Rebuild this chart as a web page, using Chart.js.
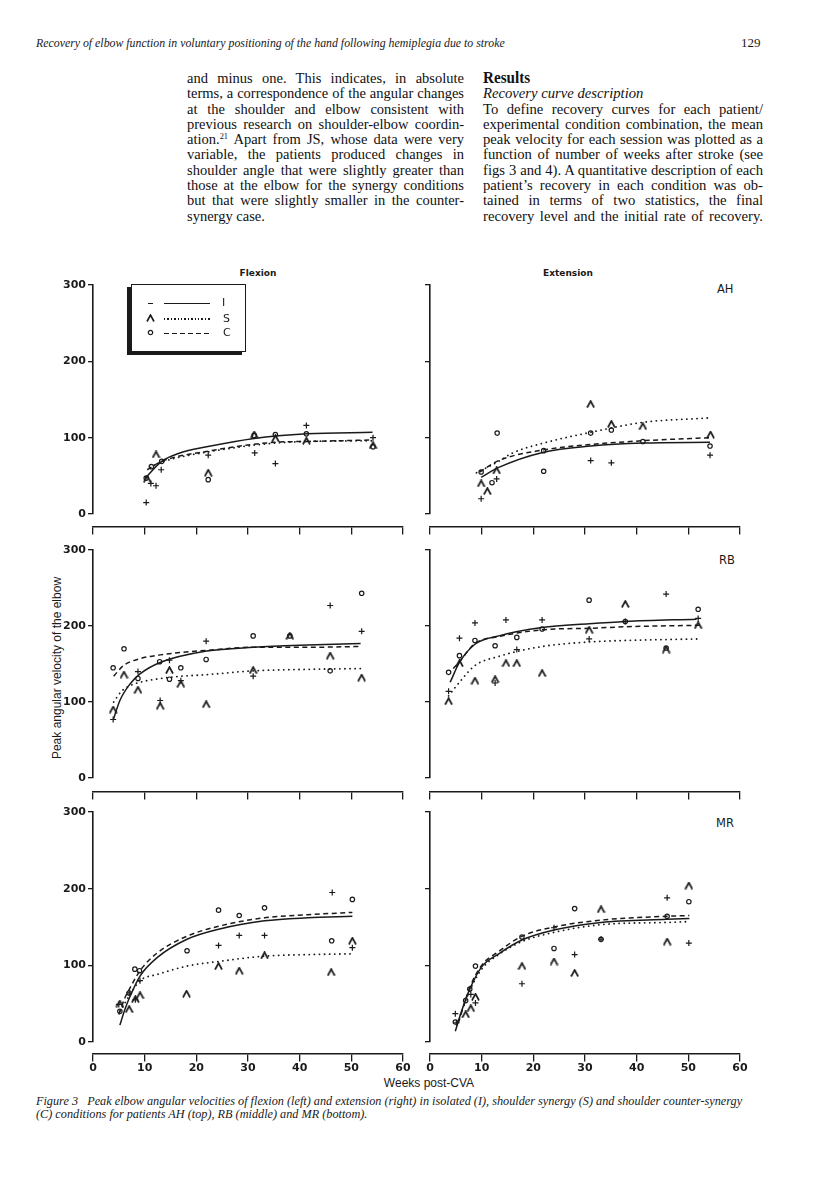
<!DOCTYPE html>
<html><head><meta charset="utf-8">
<script src="https://cdn.jsdelivr.net/npm/chart.js@4"></script>
<style>
html,body{margin:0;padding:0;background:#fff;}
body{width:816px;height:1203px;position:relative;overflow:hidden;color:#1a1a1a;}
.abs{position:absolute;white-space:nowrap;}
.serif{font-family:"Liberation Serif","Times New Roman",serif;}
.sans{font-family:"Liberation Sans",Arial,sans-serif;}
.col{position:absolute;top:70px;font-family:"Liberation Serif","Times New Roman",serif;font-size:15.5px;line-height:15.3px;transform-origin:0 0;color:#111;}
.col div{white-space:nowrap;text-align:justify;text-align-last:justify;height:15.3px;}
.col div.last{text-align-last:left;}
.col span.m{display:inline-block;}
sup{font-size:9px;line-height:0;vertical-align:5px;}
canvas{position:absolute;}
#legend{position:absolute;left:131px;top:284px;width:113px;height:66px;border:1.4px solid #1a1a1a;box-shadow:-4px 3px 0 #1a1a1a;background:#fff;}
#legend .ln{position:absolute;left:32px;width:46px;height:1.6px;}
#legend .lab{position:absolute;font-family:"DejaVu Sans",sans-serif;font-size:11px;line-height:12px;}
</style></head><body>

<div class="abs serif" id="hdr" style="left:36px;top:35px;font-style:italic;font-size:12px;line-height:16px;">Recovery of elbow function in voluntary positioning of the hand following hemiplegia due to stroke</div>
<div class="abs serif" style="left:741px;top:35px;font-size:13px;line-height:16px;">129</div>

<div class="col" id="colL" data-w="277" style="left:187px;">
<div>and minus one. This indicates, in absolute</div>
<div>terms, a correspondence of the angular changes</div>
<div>at the shoulder and elbow consistent with</div>
<div>previous research on shoulder-elbow coordin-</div>
<div>ation.<sup>21</sup> Apart from JS, whose data were very</div>
<div>variable, the patients produced changes in</div>
<div>shoulder angle that were slightly greater than</div>
<div>those at the elbow for the synergy conditions</div>
<div>but that were slightly smaller in the counter-</div>
<div class="last">synergy case.</div>
</div>
<div class="col" id="colR" data-w="280" style="left:483px;">
<div class="last" style="font-weight:bold;font-size:16px;">Results</div>
<div class="last" style="font-style:italic;">Recovery curve description</div>
<div>To define recovery curves for each patient/</div>
<div>experimental condition combination, the mean</div>
<div>peak velocity for each session was plotted as a</div>
<div>function of number of weeks after stroke (see</div>
<div>figs 3 and 4). A quantitative description of each</div>
<div>patient’s recovery in each condition was ob-</div>
<div>tained in terms of two statistics, the final</div>
<div>recovery level and the initial rate of recovery.</div>
</div>

<div class="abs" style="left:258px;top:273px;transform:translate(-50%,-50%);font-family:'DejaVu Sans',sans-serif;font-weight:bold;font-size:9px;">Flexion</div>
<div class="abs" style="left:568px;top:273px;transform:translate(-50%,-50%);font-family:'DejaVu Sans',sans-serif;font-weight:bold;font-size:9px;">Extension</div>
<div class="abs" style="left:717px;top:283px;font-family:'DejaVu Sans',sans-serif;font-size:11.5px;line-height:13px;">AH</div>
<div class="abs" style="left:719px;top:554px;font-family:'DejaVu Sans',sans-serif;font-size:11.5px;line-height:13px;">RB</div>
<div class="abs" style="left:716px;top:817px;font-family:'DejaVu Sans',sans-serif;font-size:11.5px;line-height:13px;">MR</div>
<div class="abs sans" style="left:57px;top:668px;transform:translate(-50%,-50%) rotate(-90deg);font-size:12px;">Peak angular velocity of the elbow</div>
<div class="abs sans" style="left:429px;top:1083px;transform:translate(-50%,-50%);font-size:12px;">Weeks post-CVA</div>

<div class="abs serif" id="cap1" style="left:36px;top:1093px;font-style:italic;font-size:12px;line-height:16px;">Figure 3&nbsp;&nbsp;&nbsp;Peak elbow angular velocities of flexion (left) and extension (right) in isolated (I), shoulder synergy (S) and shoulder counter-synergy</div>
<div class="abs serif" id="cap2" style="left:36px;top:1106px;font-style:italic;font-size:12px;line-height:16px;">(C) conditions for patients AH (top), RB (middle) and MR (bottom).</div>

<canvas id="c_ah_f"></canvas><canvas id="c_ah_e"></canvas>
<canvas id="c_rb_f"></canvas><canvas id="c_rb_e"></canvas>
<canvas id="c_mr_f"></canvas><canvas id="c_mr_e"></canvas>

<div id="legend">
  <div style="position:absolute;left:16px;top:17.5px;width:5px;height:1.4px;background:#1a1a1a;"></div>
  <div class="ln" style="top:17.5px;background:#1a1a1a;"></div>
  <div class="lab" style="left:90px;top:12px;">I</div>
  <svg style="position:absolute;left:14px;top:29px" width="9" height="8"><path d="M1 7.5 L4.5 1 L8 7.5" fill="none" stroke="#1a1a1a" stroke-width="1.6"/></svg>
  <div class="ln" style="top:33px;background:repeating-linear-gradient(90deg,#1a1a1a 0 1.4px,transparent 1.4px 3.4px);"></div>
  <div class="lab" style="left:91px;top:27.5px;">S</div>
  <svg style="position:absolute;left:15px;top:44px" width="7" height="7"><circle cx="3.5" cy="3.5" r="2.2" fill="#fff" stroke="#1a1a1a" stroke-width="1.2"/></svg>
  <div class="ln" style="top:47.5px;background:repeating-linear-gradient(90deg,#1a1a1a 0 5px,transparent 5px 8px);"></div>
  <div class="lab" style="left:91px;top:42px;">C</div>
</div>

<script>
// ---------- data (weeks post-CVA, peak velocity deg/s) ----------
const WEEK_TICKS = [0, 10, 20, 30, 40, 50, 60];
const VELOCITY_TICKS = [0, 100, 200, 300];
const CONDITIONS = ['I', 'S', 'C'];

// AH - flexion
const AH_FLEX_I = [[10.3,15],[11.2,40],[12.2,37],[13.2,58],[22.3,77],[31.3,80],[35.3,66],[41.3,116],[54.2,100]];
const AH_FLEX_S = [[10.5,46],[12.2,78],[22.3,54],[31.2,104],[35.3,99],[41.3,96],[54.2,90]];
const AH_FLEX_C = [[10.3,47],[11.3,62],[13.3,69],[22.3,45],[31.2,103],[35.3,104],[41.3,105],[54.2,88]];
const AH_FLEX_I_FIT = [[10.1,47],[13.3,69],[16.8,80],[22,88],[31.2,99],[41.4,105],[54.1,107]];
const AH_FLEX_S_FIT = [[11,61],[13.3,68],[22,81],[35.3,93],[41.4,95],[54.1,96]];
const AH_FLEX_C_FIT = [[10.5,58],[13.3,69],[22,82],[35.3,94],[41.4,95],[54.1,97]];
// AH - extension
const AH_EXT_I = [[9.9,20],[12.9,46],[31.1,70],[35.1,67],[54.2,77]];
const AH_EXT_S = [[9.9,40],[11.1,30],[12.9,57],[31.1,144],[35.1,118],[41.2,115],[54.3,104]];
const AH_EXT_C = [[9.9,55],[12.0,41],[13,106],[22,56],[22,83],[31.1,106],[35.1,110],[41.2,95],[54.2,89]];
const AH_EXT_I_FIT = [[9.9,48],[13.3,61],[22,81],[31.1,89],[41.2,93],[54.2,94]];
const AH_EXT_S_FIT = [[9,54],[13.3,69],[16,80],[22,93],[31.1,107],[41.2,120],[54.2,126]];
const AH_EXT_C_FIT = [[9.6,55],[13.3,70],[22,84],[31.1,91],[41.2,96],[54.2,100]];
// RB - flexion
const RB_FLEX_I = [[3.9,77],[8.7,140],[13,102],[14.8,155],[17,128],[21.9,180],[31,134],[45.9,227],[52,193]];
const RB_FLEX_S = [[3.9,90],[6,136],[8.7,116],[13,95],[14.8,142],[17,124],[21.9,97],[31,142],[38.1,187],[45.9,161],[52,132]];
const RB_FLEX_C = [[3.9,145],[6,170],[8.7,131],[12.9,153],[14.8,130],[17,145],[21.9,156],[31,187],[38.1,187],[45.9,141],[52,243]];
const RB_FLEX_I_FIT = [[4,78],[5.2,102],[7.2,124],[9.1,137],[13,152],[22,167],[31.1,172],[41.5,175],[51.8,177]];
const RB_FLEX_S_FIT = [[4,100],[5.5,114],[7,121],[9.1,126],[15.6,133],[22,136],[31.1,141],[41.5,143],[51.8,144]];
const RB_FLEX_C_FIT = [[4,134],[5.9,148],[9.1,157],[13,162],[22,168],[31.1,172],[41.5,172],[51.8,173]];
// RB - extension
const RB_EXT_I = [[3.6,114],[5.7,184],[8.7,204],[12.6,125],[14.7,208],[16.8,169],[21.7,208],[30.8,183],[37.8,206],[45.7,242],[51.9,210]];
const RB_EXT_S = [[3.6,101],[5.7,151],[8.7,128],[12.6,130],[14.7,151],[16.8,151],[21.7,138],[30.8,195],[37.8,229],[45.7,169],[51.9,201]];
const RB_EXT_C = [[3.6,139],[5.7,161],[8.7,181],[12.6,174],[16.8,185],[21.7,196],[30.8,234],[37.8,206],[45.7,171],[51.9,222]];
const RB_EXT_I_FIT = [[3.9,126],[5.7,152],[8.7,176],[13.3,187],[21.7,198],[30.8,203],[37.9,206],[51.6,209]];
const RB_EXT_S_FIT = [[3.6,108],[5.7,126],[8.7,148],[13.3,160],[21.7,173],[30.8,179],[37.9,181],[52.3,183]];
const RB_EXT_C_FIT = [[4.5,144],[5.7,153],[8.7,177],[13.3,186],[21.7,195],[30.8,197],[37.9,199],[52.3,201]];
// MR - flexion
const MR_FLEX_I = [[5.0,49],[7,64],[8.2,55],[9.1,80],[24.3,126],[28.3,139],[33.2,139],[46.3,195],[50.2,123]];
const MR_FLEX_S = [[5.2,50],[7,43],[8.2,56],[9.1,61],[18.1,63],[24.3,99],[28.3,93],[33.2,113],[46.1,91],[50.2,132]];
const MR_FLEX_C = [[5.2,40],[7,64],[8.1,95],[9,93],[18.2,119],[24.3,172],[28.3,165],[33.2,175],[46.2,132],[50.2,186]];
const MR_FLEX_I_FIT = [[5.2,22],[6.2,43],[7.2,60],[9.1,86],[12.4,110],[18.2,134],[24.3,147],[33.2,158],[41.5,162],[50.2,164]];
const MR_FLEX_S_FIT = [[5.2,40],[7.2,62],[9.1,80],[12.4,88],[18.2,99],[24.3,105],[33.2,112],[41.5,114],[50.2,115]];
const MR_FLEX_C_FIT = [[5,36],[6.2,58],[7.2,71],[9.1,93],[12.4,116],[18.2,138],[24.3,151],[33.2,162],[41.5,166],[50.2,169]];
// MR - extension
const MR_EXT_I = [[4.9,37],[5.1,25],[7.9,62],[8.8,51],[17.8,76],[24,149],[28,114],[33.1,134],[45.9,188],[50.1,129]];
const MR_EXT_S = [[6.9,36],[7.9,44],[8.8,59],[17.8,99],[24,105],[28,90],[33.1,173],[45.9,131],[50.1,204]];
const MR_EXT_C = [[4.9,26],[6.9,54],[7.7,69],[8.8,99],[17.8,137],[24,122],[28,174],[33.1,134],[45.9,164],[50.1,183]];
const MR_EXT_I_FIT = [[4.9,14],[6.1,40],[7.7,69],[10,98],[13.3,115],[17.8,133],[24,146],[33.1,156],[45.8,160],[50.2,161]];
const MR_EXT_S_FIT = [[5.2,23],[7.7,67],[10,95],[13.3,114],[17.8,131],[24,143],[33.1,153],[45.8,156],[50.2,157]];
const MR_EXT_C_FIT = [[5.5,25],[7.7,71],[10,100],[13.3,118],[17.8,138],[24,150],[33.1,159],[45.8,164],[50.2,165]];

// ---------- text fitting ----------
function fitTo(el, w) {
  el.style.display = 'inline-block';
  const cur = el.getBoundingClientRect().width;
  const fs = parseFloat(getComputedStyle(el).fontSize);
  const nfs = fs * w / cur;
  el.style.fontSize = nfs + 'px';
  return nfs;
}
fitTo(document.getElementById('hdr'), 469);
const capFs = fitTo(document.getElementById('cap1'), 707);
document.getElementById('cap2').style.fontSize = capFs + 'px';
// condense each text column uniformly so that its tightest justified line just fits
document.querySelectorAll('.col').forEach(col => {
  const colW = parseFloat(col.dataset.w);
  let s = 1.2;
  col.querySelectorAll('div:not(.last)').forEach(d => {
    const sp = document.createElement('span'); sp.className = 'm';
    while (d.firstChild) sp.appendChild(d.firstChild);
    d.appendChild(sp);
    const nat = sp.getBoundingClientRect().width;
    s = Math.min(s, colW / (nat + 2));
    while (sp.firstChild) d.insertBefore(sp.firstChild, sp);
    sp.remove();
  });
  col.style.width = (colW / s) + 'px';
  col.style.transform = 'scaleX(' + s + ')';
});

// ---------- chart ----------
const INK = '#1a1a1a';
function caretImage() {
  const c = document.createElement('canvas'); c.width = 9; c.height = 8;
  const g = c.getContext('2d');
  g.strokeStyle = INK; g.lineWidth = 1.7; g.lineJoin = 'miter';
  g.beginPath(); g.moveTo(1, 7.5); g.lineTo(4.5, 1); g.lineTo(8, 7.5); g.stroke();
  return c;
}
const CARET = caretImage();
const toXY = a => a.map(p => ({x: p[0], y: p[1]}));

const MARKERS = {
  I: {pointStyle: 'cross', pointRadius: 3, pointBorderWidth: 1.2, pointBorderColor: INK, pointBackgroundColor: INK},
  S: {pointStyle: CARET, pointRadius: 4, pointBorderColor: INK, pointBackgroundColor: INK},
  C: {pointStyle: 'circle', pointRadius: 2.2, pointBorderWidth: 1.2, pointBorderColor: INK, pointBackgroundColor: '#fff'}
};
const LINES = {
  I: {borderDash: [], borderWidth: 1.5, borderCapStyle: 'butt'},
  S: {borderDash: [0.1, 5], borderWidth: 1.8, borderCapStyle: 'round'},
  C: {borderDash: [5, 3.5], borderWidth: 1.5, borderCapStyle: 'butt'}
};

const PANELS = [
  {id: 'c_ah_f', col: 0, row: 0, pts: [AH_FLEX_I, AH_FLEX_S, AH_FLEX_C], fits: [AH_FLEX_I_FIT, AH_FLEX_S_FIT, AH_FLEX_C_FIT]},
  {id: 'c_ah_e', col: 1, row: 0, pts: [AH_EXT_I, AH_EXT_S, AH_EXT_C], fits: [AH_EXT_I_FIT, AH_EXT_S_FIT, AH_EXT_C_FIT]},
  {id: 'c_rb_f', col: 0, row: 1, pts: [RB_FLEX_I, RB_FLEX_S, RB_FLEX_C], fits: [RB_FLEX_I_FIT, RB_FLEX_S_FIT, RB_FLEX_C_FIT]},
  {id: 'c_rb_e', col: 1, row: 1, pts: [RB_EXT_I, RB_EXT_S, RB_EXT_C], fits: [RB_EXT_I_FIT, RB_EXT_S_FIT, RB_EXT_C_FIT]},
  {id: 'c_mr_f', col: 0, row: 2, pts: [MR_FLEX_I, MR_FLEX_S, MR_FLEX_C], fits: [MR_FLEX_I_FIT, MR_FLEX_S_FIT, MR_FLEX_C_FIT]},
  {id: 'c_mr_e', col: 1, row: 2, pts: [MR_EXT_I, MR_EXT_S, MR_EXT_C], fits: [MR_EXT_I_FIT, MR_EXT_S_FIT, MR_EXT_C_FIT]}
];
// layout of the panel grid
const COL_AREA = [{left: 93, right: 403}, {left: 430, right: 740}];
const ROW_AREA = [{top: 285, bottom: 514, axisOffset: -17}, {top: 550, bottom: 778, axisOffset: -18}, {top: 812, bottom: 1042, axisOffset: -15}];
const PAD = 10, YW = 40;

PANELS.forEach(p => {
  const ca = COL_AREA[p.col], ra = ROW_AREA[p.row];
  const padBottom = p.row === 2 ? 40 : 25;
  const W = PAD + YW + (ca.right - ca.left) + PAD;
  const H = PAD + (ra.bottom - ra.top) + padBottom;
  const cv = document.getElementById(p.id);
  cv.width = W; cv.height = H;
  cv.style.left = (ca.left - PAD - YW) + 'px';
  cv.style.top = (ra.top - PAD) + 'px';
  cv.style.width = W + 'px'; cv.style.height = H + 'px';

  const datasets = [];
  CONDITIONS.forEach((k, i) => {
    datasets.push(Object.assign({label: k + ' fit', type: 'line', data: toXY(p.fits[i]), showLine: true,
      borderColor: INK, pointRadius: 0, fill: false, cubicInterpolationMode: 'monotone'}, LINES[k]));
  });
  CONDITIONS.forEach((k, i) => {
    datasets.push(Object.assign({label: k, type: 'scatter', data: toXY(p.pts[i]), showLine: false}, MARKERS[k]));
  });

  new Chart(cv, {
    type: 'scatter',
    data: {datasets},
    options: {
      responsive: false, animation: false, devicePixelRatio: 1,
      layout: {padding: {left: PAD, right: PAD, top: PAD, bottom: padBottom}},
      plugins: {legend: {display: false}, tooltip: {enabled: false}},
      scales: {
        x: {
          type: 'linear', min: WEEK_TICKS[0], max: WEEK_TICKS[WEEK_TICKS.length - 1],
          position: {y: ra.axisOffset},
          afterBuildTicks: s => { s.ticks = WEEK_TICKS.map(v => ({value: v})); },
          ticks: {display: p.row === 2, padding: 1, color: INK, autoSkip: false,
            font: {family: 'DejaVu Sans', weight: 'bold', size: 11}},
          grid: {drawOnChartArea: false, drawTicks: true, tickLength: 7, color: INK, lineWidth: 1.3},
          border: {display: true, color: INK, width: 1.6}
        },
        y: {
          type: 'linear', min: VELOCITY_TICKS[0], max: VELOCITY_TICKS[VELOCITY_TICKS.length - 1],
          position: 'left',
          afterFit: s => { s.width = YW; },
          afterBuildTicks: s => { s.ticks = VELOCITY_TICKS.map(v => ({value: v})); },
          ticks: {display: p.col === 0, padding: 2, color: INK,
            font: {family: 'DejaVu Sans', weight: 'bold', size: 11}},
          grid: {drawOnChartArea: false, drawTicks: true, tickLength: 5, color: INK, lineWidth: 1.3},
          border: {display: true, color: INK, width: 1.6}
        }
      }
    }
  });
});
</script>
</body></html>
